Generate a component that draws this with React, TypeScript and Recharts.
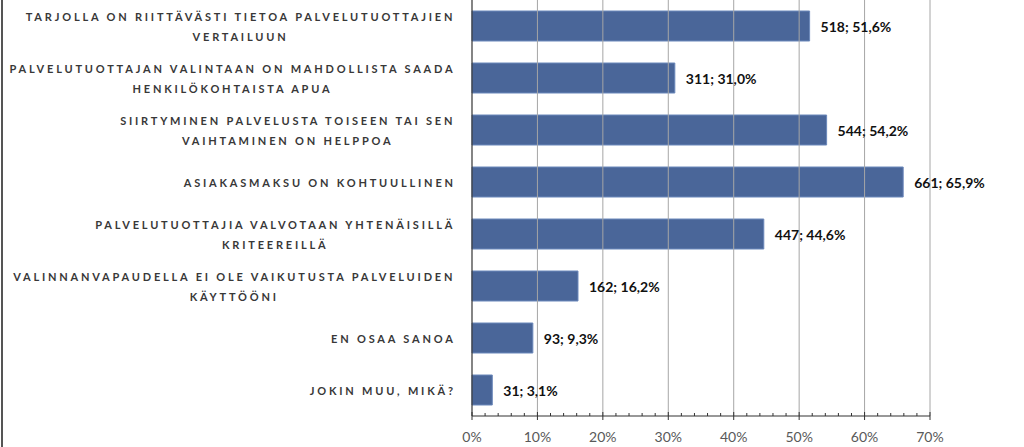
import React from "react";
import {
  BarChart,
  Bar,
  XAxis,
  YAxis,
  ReferenceLine,
  LabelList,
} from "recharts";

const categories = [
  "TARJOLLA ON RIITTÄVÄSTI TIETOA PALVELUTUOTTAJIEN\nVERTAILUUN",
  "PALVELUTUOTTAJAN VALINTAAN ON MAHDOLLISTA SAADA\nHENKILÖKOHTAISTA APUA",
  "SIIRTYMINEN PALVELUSTA TOISEEN TAI SEN\nVAIHTAMINEN ON HELPPOA",
  "ASIAKASMAKSU ON KOHTUULLINEN",
  "PALVELUTUOTTAJIA VALVOTAAN YHTENÄISILLÄ\nKRITEEREILLÄ",
  "VALINNANVAPAUDELLA EI OLE VAIKUTUSTA PALVELUIDEN\nKÄYTTÖÖNI",
  "EN OSAA SANOA",
  "JOKIN MUU, MIKÄ?",
];
const counts = [518, 311, 544, 661, 447, 162, 93, 31];
const percents = [51.6, 31.0, 54.2, 65.9, 44.6, 16.2, 9.3, 3.1];
const majorTicks = [0, 10, 20, 30, 40, 50, 60, 70];

const allTicks: number[] = [];
for (let v = 0; v <= 70; v += 2) allTicks.push(v);

const data = categories.map((name, i) => ({
  name,
  pct: percents[i],
  label: `${counts[i]}; ${percents[i].toFixed(1).replace(".", ",")}%`,
}));

const FONT = "Lato, 'Open Sans', sans-serif";
const CAT_SIZE = 11;
const LS = 2.8;
const ctx = document.createElement("canvas").getContext("2d");
function textWidth(s: string) {
  if (!ctx) return s.length * 9;
  ctx.font = `700 ${CAT_SIZE}px Lato`;
  return ctx.measureText(s).width + LS * s.length;
}

function CategoryTick({ x, y, payload }: any) {
  const lines = String(payload.value).split("\n");
  const w = Math.max(...lines.map(textWidth));
  const cx = x + LS - w / 2;
  const gap = 19.5;
  const start = y + 1 - ((lines.length - 1) * gap) / 2;
  return (
    <g>
      {lines.map((l, i) => (
        <text
          key={i}
          x={cx}
          y={start + i * gap}
          dy="0.35em"
          textAnchor="middle"
          fill="#383838"
          style={{
            fontFamily: FONT,
            fontWeight: 700,
            fontSize: CAT_SIZE,
            letterSpacing: LS,
          }}
        >
          {l}
        </text>
      ))}
    </g>
  );
}

function PercentTick({ x, y, payload }: any) {
  const major = payload.value % 10 === 0;
  return (
    <g>
      <line
        x1={x}
        x2={x}
        y1={major ? y - 4 : y - 3}
        y2={major ? y + 4 : y}
        stroke="#333"
        strokeWidth={1}
      />
      {major && (
        <text
          x={x}
          y={y + 21}
          dy="0.35em"
          textAnchor="middle"
          fill="#595959"
          style={{ fontFamily: FONT, fontSize: 14 }}
        >
          {payload.value}%
        </text>
      )}
    </g>
  );
}

function ValueLabel({ x, y, width, height, value }: any) {
  return (
    <text
      x={Number(x) + Number(width) + 11}
      y={Number(y) + Number(height) / 2 + 1}
      dy="0.35em"
      textAnchor="start"
      fill="#111"
      style={{ fontFamily: FONT, fontWeight: 700, fontSize: 14 }}
    >
      {value}
    </text>
  );
}

export default function App() {
  return (
    <div style={{ position: "relative", width: 1024, height: 447, background: "#fff" }}>
      <style>{"body{margin:0}"}</style>
      <div
        style={{
          position: "absolute",
          left: 1,
          top: 0,
          width: 2,
          height: 447,
          background: "#555",
        }}
      />
      <BarChart
        width={1024}
        height={447}
        data={data}
        layout="vertical"
        margin={{ top: 0, right: 94, left: 0, bottom: 0 }}
      >
        <XAxis
          type="number"
          dataKey="pct"
          domain={[0, 70]}
          ticks={allTicks}
          interval={0}
          height={31}
          tickSize={0}
          tickMargin={0}
          tickLine={false}
          axisLine={{ stroke: "#333", strokeWidth: 1.2 }}
          tick={<PercentTick />}
        />
        <YAxis
          type="category"
          dataKey="name"
          width={472}
          tickSize={0}
          tickMargin={19}
          tickLine={false}
          interval={0}
          axisLine={{ stroke: "#333", strokeWidth: 1.2 }}
          tick={<CategoryTick />}
        />
        {majorTicks.slice(1).map((t) => (
          <ReferenceLine key={t} x={t} stroke="#a6a6a6" strokeWidth={1} />
        ))}
        <Bar
          dataKey="pct"
          fill="#4a6699"
          stroke="#6b88bb"
          strokeWidth={1}
          barSize={30}
          isAnimationActive={false}
        >
          <LabelList dataKey="label" content={<ValueLabel />} />
        </Bar>
      </BarChart>
    </div>
  );
}
